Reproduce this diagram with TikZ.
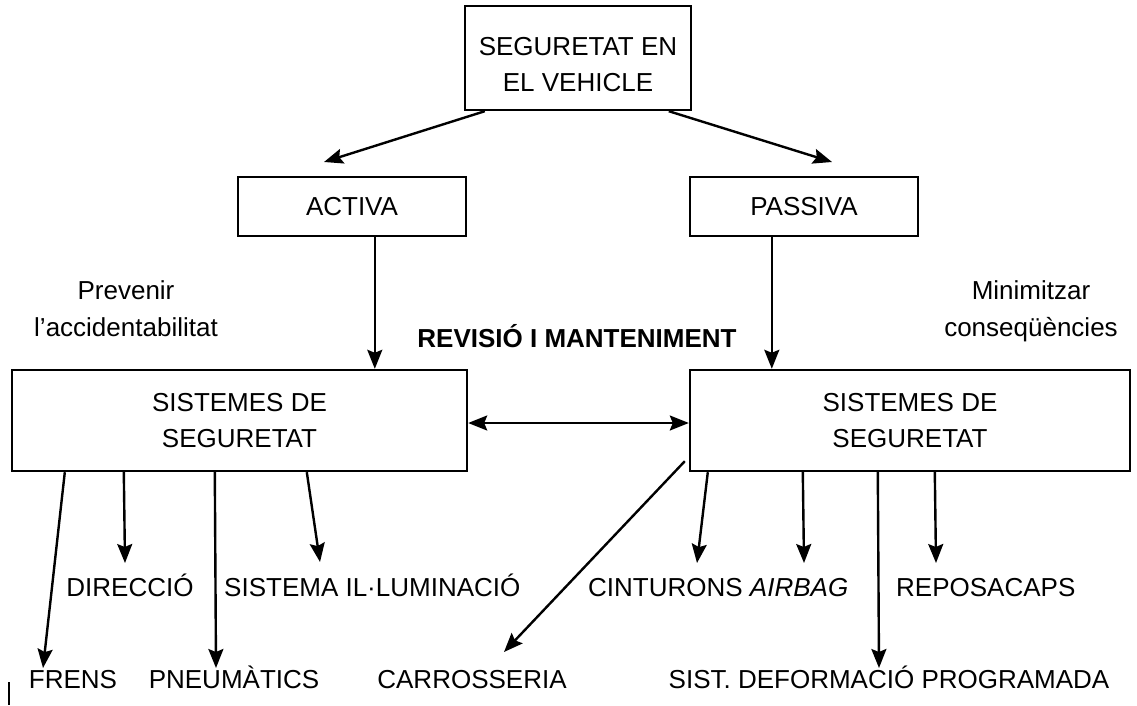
\documentclass[tikz,border=0pt]{standalone}
\usepackage{fontspec}
\setmainfont{Liberation Sans}
\usetikzlibrary{arrows.meta,calc}
\begin{document}
\begin{tikzpicture}[x=1pt,y=-1pt,line width=2.4pt,
  box/.style={draw, rectangle, inner sep=0pt, align=center, font=\fontsize{26}{36}\selectfont},
  lab/.style={inner sep=0pt, align=center, font=\fontsize{26}{37}\selectfont},
  arr/.style={-{Stealth[length=19pt,width=15pt,inset=3pt]}},
  darr/.style={{Stealth[length=19pt,width=15pt,inset=3pt]}-{Stealth[length=19pt,width=15pt,inset=3pt]}}]
\useasboundingbox (0,0) rectangle (1137,706);
% boxes
\node[box, minimum width=226pt, minimum height=104pt, text height=67pt] (top) at (578,58) {SEGURETAT EN\\EL VEHICLE};
\node[box, minimum width=228pt, minimum height=59pt] (activa) at (352,206.5) {ACTIVA};
\node[box, minimum width=228pt, minimum height=59pt] (passiva) at (804,206.5) {PASSIVA};
\node[box, minimum width=455pt, minimum height=101pt] (ssL) at (239.5,420.5) {SISTEMES DE\\SEGURETAT};
\node[box, minimum width=440pt, minimum height=101pt] (ssR) at (910,420.5) {SISTEMES DE\\SEGURETAT};
% free labels
\node[lab, anchor=north] (prev) at (126,279) {Prevenir\\l’accidentabilitat};
\node[lab, anchor=north] (mini) at (1031,279) {Minimitzar\\conseqüències};
\node[lab, anchor=base, font=\fontsize{26}{37}\selectfont\bfseries] (rev) at (577,347) {REVISIÓ I MANTENIMENT};
% leaf labels, first row
\node[lab, anchor=base] (dir) at (130,596) {DIRECCIÓ};
\node[lab, anchor=base west] (ilu) at (223,596) {SISTEMA IL·LUMINACIÓ};
\node[lab, anchor=base west] (cin) at (587,596) {CINTURONS \textit{AIRBAG}};
\node[lab, anchor=base west] (rep) at (895,596) {REPOSACAPS};
% leaf labels, second row
\node[lab, anchor=base] (fre) at (73,688) {FRENS};
\node[lab, anchor=base] (pne) at (234,688) {PNEUMÀTICS};
\node[lab, anchor=base] (car) at (472,688) {CARROSSERIA};
\node[lab, anchor=base] (def) at (889,688) {SIST. DEFORMACIÓ PROGRAMADA};
% arrow end points
\coordinate (tA) at (324,162);
\coordinate (tP) at (832,162);
\coordinate (tFre) at (43,668);
\coordinate (tDir) at (125,563);
\coordinate (tPne) at (216,668);
\coordinate (tIlu) at (320,562);
\coordinate (tCar) at (504,652);
\coordinate (tCin) at (697,563);
\coordinate (tAir) at (804,563);
\coordinate (tDef) at (879,668);
\coordinate (tRep) at (936,563);
\coordinate (mk1) at (9,682);
\coordinate (mk2) at (9,705);
% connectors
\draw[arr] ([xshift=21pt]top.south west) -- (tA);
\draw[arr] ([xshift=205pt]top.south west) -- (tP);
\draw[arr] ([xshift=138pt]activa.south west) -- ([xshift=138pt]activa.south west |- ssL.north);
\draw[arr] ([xshift=83pt]passiva.south west) -- ([xshift=83pt]passiva.south west |- ssR.north);
\draw[darr] ([yshift=-2.5pt]ssL.east) -- ([yshift=-2.5pt]ssR.west);
\draw[arr] ([xshift=54pt]ssL.south west) -- (tFre);
\draw[arr] ([xshift=113pt]ssL.south west) -- (tDir);
\draw[arr] ([xshift=204pt]ssL.south west) -- (tPne);
\draw[arr] ([xshift=296pt]ssL.south west) -- (tIlu);
\draw[arr] ([shift={(-4,-11)}]ssR.south west) -- (tCar);
\draw[arr] ([xshift=19pt]ssR.south west) -- (tCin);
\draw[arr] ([xshift=114pt]ssR.south west) -- (tAir);
\draw[arr] ([xshift=189pt]ssR.south west) -- (tDef);
\draw[arr] ([xshift=246pt]ssR.south west) -- (tRep);
\draw (mk1) -- (mk2);
\end{tikzpicture}
\end{document}
